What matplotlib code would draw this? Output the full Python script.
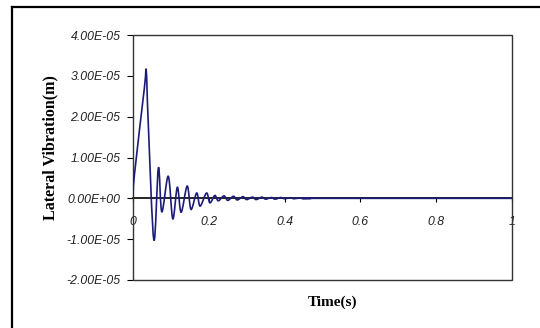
import matplotlib
matplotlib.use("Agg")
import matplotlib.pyplot as plt
import numpy as np
from matplotlib.path import Path
from matplotlib.patches import PathPatch, Rectangle
from matplotlib.lines import Line2D

# time (s) and lateral vibration (x 1e-5 m), read at the turning points
TIME = [0.0, 0.004, 0.030, 0.035, 0.040, 0.055, 0.067, 0.076, 0.093, 0.105,
        0.117, 0.127, 0.143, 0.153, 0.168, 0.177, 0.194, 0.203, 0.216, 0.225,
        0.240, 0.250, 0.265, 0.275, 0.290, 0.300, 0.315, 0.325, 0.340, 0.350,
        0.365, 0.375, 0.390, 0.400, 0.415, 0.425, 0.440, 0.450, 0.470, 0.500,
        1.0]
VIB = [0.0, 0.6, 2.70, 3.12, 1.90, -1.02, 0.75, -0.33, 0.54, -0.50,
       0.27, -0.34, 0.30, -0.27, 0.13, -0.19, 0.13, -0.11, 0.07, -0.06,
       0.06, -0.05, 0.05, -0.04, 0.04, -0.03, 0.03, -0.03, 0.03, -0.02,
       0.02, -0.02, 0.02, -0.01, 0.015, -0.01, 0.01, -0.005, 0.0, 0.0,
       0.0]

Y_TICKS = [-2e-5, -1e-5, 0, 1e-5, 2e-5, 3e-5, 4e-5]
X_TICKS = [0, 0.2, 0.4, 0.6, 0.8, 1]
X_LABELS = ["0", "0.2", "0.4", "0.6", "0.8", "1"]

LINE_COLOR = "#1c1c78"


def smooth_path(x, y):
    # Excel-style smoothed line: Catmull-Rom segments as cubic Beziers
    p = np.column_stack([x, y])
    n = len(p)
    verts = [p[0]]
    codes = [Path.MOVETO]
    for i in range(n - 1):
        p0 = p[i - 1] if i > 0 else p[i]
        p3 = p[i + 2] if i + 2 < n else p[i + 1]
        c1 = p[i] + (p[i + 1] - p0) / 6.0
        c2 = p[i + 1] - (p3 - p[i]) / 6.0
        verts += [c1, c2, p[i + 1]]
        codes += [Path.CURVE4] * 3
    return Path(verts, codes)


fig = plt.figure(figsize=(5.4, 3.28), dpi=100)
ax = fig.add_axes([133 / 540, 1 - 280 / 328, 379 / 540, 245 / 328])

t = np.array(TIME)
v = np.array(VIB) * 1e-5
ax.add_patch(PathPatch(smooth_path(t, v), facecolor="none",
                       edgecolor=LINE_COLOR, lw=1.2, zorder=4))

ax.set_xlim(0, 1)
ax.set_ylim(-2e-5, 4e-5)

# x axis sits on zero; plot area keeps a full border
for side in ["top", "right", "left"]:
    ax.spines[side].set_visible(False)
ax.spines["bottom"].set_position(("data", 0))
ax.spines["bottom"].set_linewidth(1.2)
ax.add_patch(Rectangle((0, 0), 1, 1, transform=ax.transAxes, fill=False,
                       edgecolor="#333333", lw=1.0, zorder=3, clip_on=False))

ax.set_yticks(Y_TICKS)
ax.set_yticklabels(["%.2E" % y if y != 0 else "0.00E+00" for y in Y_TICKS])
ax.set_xticks(X_TICKS)
ax.set_xticklabels(X_LABELS)
ax.tick_params(axis="y", direction="out", length=4, width=0.8, pad=5,
               labelsize=8.8, labelcolor="#222222")
ax.tick_params(axis="x", direction="out", length=3, width=0.8, pad=10,
               labelsize=8.8, labelcolor="#222222")
for lab in ax.get_xticklabels() + ax.get_yticklabels():
    lab.set_fontstyle("italic")
    lab.set_fontfamily("Liberation Sans")

fig.text(50 / 540, 1 - 148 / 328, "Lateral Vibration(m)", rotation=90,
         ha="center", va="center", fontsize=11.5, fontweight="bold",
         family="Liberation Serif")
fig.text(333 / 540, 1 - 302 / 328, "Time(s)", ha="center", va="center",
         fontsize=11, fontweight="bold", family="Liberation Serif")

# outer chart frame (cut off at right and bottom)
fig.add_artist(Line2D([12 / 540, 12 / 540], [-0.1, 1 - 7 / 328],
                      transform=fig.transFigure, color="black", lw=1.6))
fig.add_artist(Line2D([12 / 540, 1.1], [1 - 7 / 328, 1 - 7 / 328],
                      transform=fig.transFigure, color="black", lw=1.6))

fig.savefig("out.png", dpi=100)
